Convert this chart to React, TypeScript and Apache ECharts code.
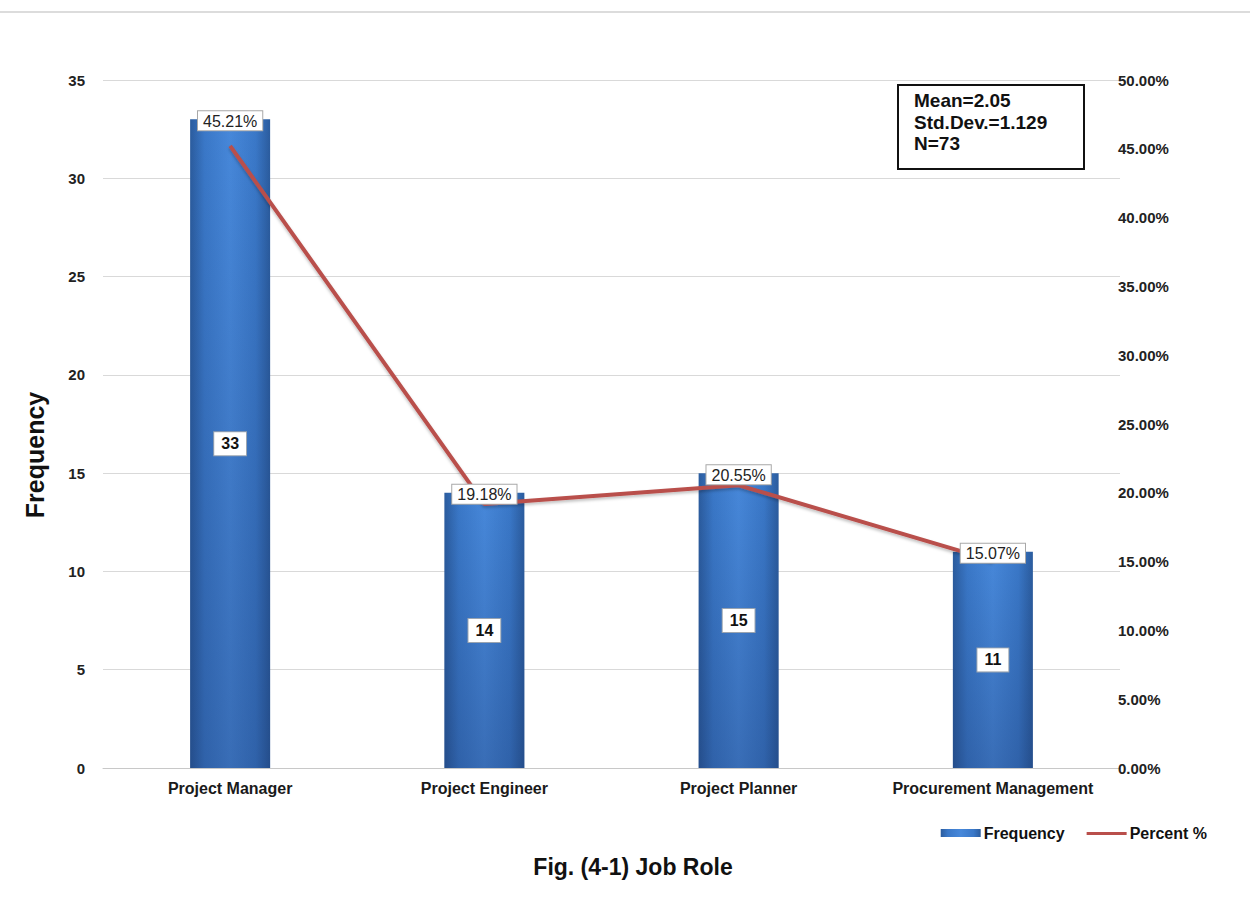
import React, { useEffect, useRef } from "react";
import * as echarts from "echarts";

const categories = ["Project Manager", "Project Engineer", "Project Planner", "Procurement Management"];
const frequency = [33, 14, 15, 11];
const percent = [45.21, 19.18, 20.55, 15.07];
const leftTicks = { min: 0, max: 35, interval: 5 };
const rightTicks = { min: 0, max: 50, interval: 5 };
const statsLines = ["Mean=2.05", "Std.Dev.=1.129", "N=73"];
const titleText = "Fig. (4-1) Job Role";
const yAxisTitle = "Frequency";

const FONT = "Arial, 'Liberation Sans', sans-serif";

export default function App() {
  const ref = useRef<HTMLDivElement>(null);
  useEffect(() => {
    document.body.style.margin = "0";
    const chart = echarts.init(ref.current!, null, { renderer: "svg" });
    chart.setOption({
      animation: false,
      backgroundColor: "#ffffff",
      textStyle: { fontFamily: FONT },
      title: {
        text: titleText,
        left: 628,
        top: 850,
        textAlign: "center",
        textStyle: { fontSize: 23, fontWeight: "bold", color: "#111", fontFamily: FONT },
      },
      legend: {
        data: [
          { name: "Frequency", icon: "rect" },
          { name: "Percent %", icon: "path://M0,0 L0,0 M0,3 L40,3 L40,6 L0,6 Z M40,8 L40,8" },
        ],
        right: 38,
        top: 820,
        itemWidth: 40,
        itemHeight: 8,
        itemGap: 22,
        textStyle: { fontSize: 16, fontWeight: "bold", color: "#111", fontFamily: FONT, padding: [0, 0, 0, -2] },
      },
      grid: { left: 103, right: 130, top: 80, bottom: 131 },
      xAxis: {
        type: "category",
        data: categories,
        axisTick: { show: false },
        axisLine: { lineStyle: { color: "#c8c8c8", width: 1 } },
        axisLabel: { interval: 0, fontSize: 16, fontWeight: "bold", color: "#1a1a1a", margin: 12, fontFamily: FONT },
      },
      yAxis: [
        {
          type: "value",
          min: leftTicks.min,
          max: leftTicks.max,
          interval: leftTicks.interval,
          axisLine: { show: false },
          axisTick: { show: false },
          axisLabel: { fontSize: 15, fontWeight: "bold", color: "#222", margin: 18, fontFamily: FONT },
          splitLine: { lineStyle: { color: "#d9d9d9", width: 1 } },
        },
        {
          type: "value",
          min: rightTicks.min,
          max: rightTicks.max,
          interval: rightTicks.interval,
          axisLine: { show: false },
          axisTick: { show: false },
          splitLine: { show: false },
          axisLabel: {
            fontSize: 15,
            fontWeight: "bold",
            color: "#222",
            margin: -2,
            fontFamily: FONT,
            formatter: (v: number) => v.toFixed(2) + "%",
          },
        },
      ],
      series: [
        {
          name: "Frequency",
          type: "bar",
          data: frequency,
          barWidth: 80,
          itemStyle: {
            color: new echarts.graphic.LinearGradient(0, 0, 1, 0, [
              { offset: 0, color: "#2b5c9e" },
              { offset: 0.18, color: "#3a78c8" },
              { offset: 0.5, color: "#4788da" },
              { offset: 0.82, color: "#3a78c8" },
              { offset: 1, color: "#2b5c9e" },
            ]),
          },
          z: 2,
        },
        {
          name: "FreqShade",
          type: "bar",
          data: frequency,
          barWidth: 80,
          barGap: "-100%",
          silent: true,
          itemStyle: {
            color: new echarts.graphic.LinearGradient(0, 0, 0, 1, [
              { offset: 0, color: "rgba(20,40,90,0)" },
              { offset: 1, color: "rgba(20,40,90,0.28)" },
            ]),
          },
          z: 3,
        },
        {
          name: "Percent %",
          type: "line",
          yAxisIndex: 1,
          data: percent,
          symbol: "none",
          lineStyle: {
            color: "#b94f4b",
            width: 4,
            shadowColor: "rgba(0,0,0,0.25)",
            shadowBlur: 3,
            shadowOffsetY: 2,
          },
          itemStyle: { color: "#b94f4b" },
          z: 4,
        },
        {
          name: "PercentLabel",
          type: "bar",
          data: frequency,
          barWidth: 80,
          barGap: "-100%",
          silent: true,
          itemStyle: { color: "rgba(0,0,0,0)" },
          label: {
            show: true,
            position: "top",
            distance: -11,
            fontSize: 16,
            color: "#222",
            backgroundColor: "#ffffff",
            borderColor: "#a8a8a8",
            borderWidth: 1,
            padding: [2, 5, 1, 5],
            fontFamily: FONT,
            formatter: (p: any) => percent[p.dataIndex].toFixed(2) + "%",
          },
          z: 5,
        },
        {
          name: "FreqLabel",
          type: "bar",
          data: frequency,
          barWidth: 80,
          barGap: "-100%",
          silent: true,
          itemStyle: { color: "rgba(0,0,0,0)" },
          label: {
            show: true,
            position: "inside",
            fontSize: 16,
            fontWeight: "bold",
            color: "#111",
            backgroundColor: "#ffffff",
            borderColor: "#9aa4b0",
            borderWidth: 1,
            padding: [4, 7, 3, 7],
            fontFamily: FONT,
          },
          z: 5,
        },
      ],
      graphic: [
        {
          type: "line",
          shape: { x1: 0, y1: 12, x2: 1250, y2: 12 },
          style: { stroke: "#dcdcdc", lineWidth: 2 },
        },
        {
          type: "text",
          x: 35,
          y: 455,
          rotation: Math.PI / 2,
          style: {
            text: yAxisTitle,
            fontSize: 25,
            fontWeight: "bold",
            fill: "#111",
            fontFamily: FONT,
            align: "center",
            verticalAlign: "middle",
          },
        },
        {
          type: "rect",
          shape: { x: 898, y: 85, width: 186, height: 84 },
          style: { fill: "#ffffff", stroke: "#111", lineWidth: 2 },
          z: 10,
        },
        ...statsLines.map((t, i) => ({
          type: "text",
          x: 914,
          y: 91 + i * 21.5,
          z: 11,
          style: {
            text: t,
            fontSize: 19,
            fontWeight: "bold",
            fill: "#111",
            fontFamily: FONT,
          },
        })),
      ],
    });
    return () => chart.dispose();
  }, []);
  return <div ref={ref} style={{ width: 1250, height: 899 }} />;
}
